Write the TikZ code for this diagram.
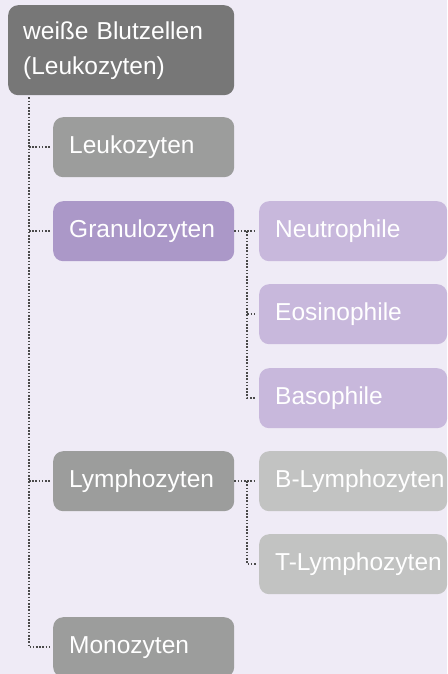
\documentclass[tikz,border=0pt]{standalone}
\usepackage{fontspec}
\setmainfont{Liberation Sans}
\usepackage{xcolor}
\usepackage{tikz}
\exhyphenpenalty=10000
\definecolor{PageTint}{HTML}{EFEBF6}
\definecolor{RootGray}{HTML}{777777}
\definecolor{CellGray}{HTML}{9C9D9C}
\definecolor{SubGray}{HTML}{C2C3C2}
\definecolor{CellViolet}{HTML}{AB98C8}
\definecolor{SubViolet}{HTML}{C8B8DC}
\definecolor{DotLine}{HTML}{4A4A4A}
\tikzset{
	cellbox/.style={rounded corners=10pt, anchor=north west, text=white, font=\fontsize{24.5}{35}\selectfont, align=left, inner xsep=16pt, inner ysep=0pt, minimum height=60pt},
	leftcell/.style={cellbox, text width=149pt},
	rightcell/.style={cellbox, text width=156pt},
	dotlink/.style={draw=DotLine, line width=2pt, dash pattern=on 1.6pt off 1.6pt}
}

\begin{document}
\begin{tikzpicture}[x=1pt,y=-1pt]
	\useasboundingbox (0,0) rectangle (447,674);
	\clip (0,0) rectangle (447,674);
	\fill[PageTint] (0,0) rectangle (447,674);

	% left column
	\node[cellbox, fill=RootGray, text width=196pt, inner xsep=15pt, minimum height=90pt] (blood) at (8,5) {weiße Blutzellen\\(Leukozyten)};
	\node[leftcell, fill=CellGray] (leuko) at (53,117) {Leukozyten};
	\node[leftcell, fill=CellViolet] (granulo) at (53,201) {Granulozyten};
	\node[leftcell, fill=CellGray] (lympho) at (53,451) {Lymphozyten};
	\node[leftcell, fill=CellGray] (mono) at (53,617) {Monozyten};

	% right column
	\node[rightcell, fill=SubViolet] (neutro) at (259,201) {Neutrophile};
	\node[rightcell, fill=SubViolet] (eosino) at (259,284) {Eosinophile};
	\node[rightcell, fill=SubViolet] (baso) at (259,368) {Basophile};
	\node[rightcell, fill=SubGray] (blympho) at (259,451) {B-Lymphozyten};
	\node[rightcell, fill=SubGray] (tlympho) at (259,534) {T-Lymphozyten};

	% dotted tree lines
	\coordinate (trunk) at ([xshift=21pt,yshift=-2pt]blood.south west);
	\draw[dotlink] (trunk) |- ([xshift=-3pt]mono.west);
	\foreach \cell in {leuko,granulo,lympho} {
		\draw[dotlink] (trunk |- \cell.west) -- ([xshift=-3pt]\cell.west);
	}

	\coordinate (granfork) at ([xshift=13pt]granulo.east);
	\draw[dotlink] (granulo.east) -- ([xshift=-3pt]neutro.west);
	\draw[dotlink] (granfork) |- ([xshift=-3pt]baso.west);
	\draw[dotlink] (granfork |- eosino.west) -- ([xshift=-3pt]eosino.west);

	\coordinate (lymphfork) at ([xshift=13pt]lympho.east);
	\draw[dotlink] (lympho.east) -- ([xshift=-3pt]blympho.west);
	\draw[dotlink] (lymphfork) |- ([xshift=-3pt]tlympho.west);
\end{tikzpicture}
\end{document}
